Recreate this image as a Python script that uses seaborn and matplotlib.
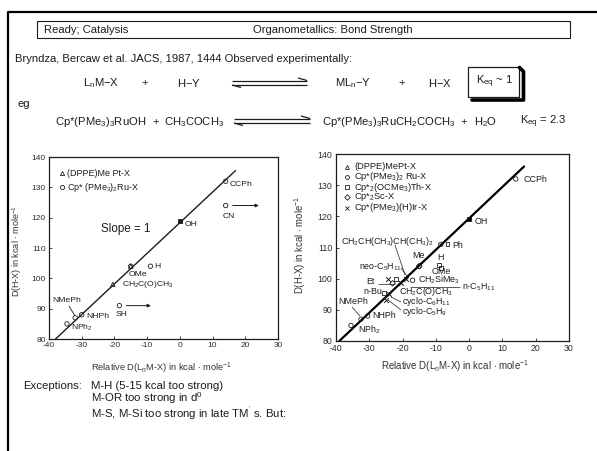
import matplotlib
matplotlib.use("Agg")
import matplotlib.pyplot as plt
import seaborn as sns
from matplotlib.patches import Rectangle

# ---------- data ----------
XT = [-40, -30, -20, -10, 0, 10, 20, 30]
YT = [80, 90, 100, 110, 120, 130, 140]

line_left_x = [-38, 17]
line_left_y = [80, 135.5]
line_right_x = [-39, 16.5]
line_right_y = [80, 136]

left_circle_x = [14, 14, -9, -15, -30, -32, -34.5, -18.5]
left_circle_y = [132, 124, 104, 104, 88, 87, 85, 91]
left_tri_x = [-20.5, -15]
left_tri_y = [98, 104]
left_filled_x = [0]
left_filled_y = [119]

right_circle_x = [14, -15, -30.5, -32.5, -35.5, -8.5, -17]
right_circle_y = [132, 104, 88, 87, 85, 111, 99.5]
right_filled_x = [0]
right_filled_y = [119]
right_square_x = [-6.5, -9, -8.5, -22, -25.5]
right_square_y = [111, 104.5, 103.5, 100, 95.5]
right_diamond_x = [-23, -15]
right_diamond_y = [98.5, 104]
right_cross_x = [-24.5, -19, -20.5, -24, -25]
right_cross_y = [100, 100, 98.5, 95, 93]

ylab = r"D(H-X) in kcal $\bullet$ mole$^{-1}$"
xlab = r"Relative D(L$_n$M-X) in kcal $\bullet$ mole$^{-1}$"

# ---------- setup ----------
sns.set_theme(style="ticks")
plt.rcParams["font.family"] = ["Liberation Sans", "DejaVu Sans"]
plt.rcParams["mathtext.default"] = "regular"
plt.rcParams["axes.unicode_minus"] = False
INK = "#1c1c1c"
W, H = 597, 451
fig = plt.figure(figsize=(W / 100, H / 100), dpi=100, facecolor="white")

ov = fig.add_axes([0, 0, 1, 1], zorder=5)
ov.set_xlim(0, W); ov.set_ylim(H, 0); ov.axis("off"); ov.patch.set_alpha(0)
MAIN = 8.15


def T(x, y, s, size=MAIN, **kw):
    kw.setdefault("va", "center")
    kw.setdefault("ha", "left")
    kw.setdefault("color", INK)
    ov.text(x, y, s, fontsize=size, **kw)


def L(x0, y0, x1, y1, lw=0.6, color=INK):
    ov.plot([x0, x1], [y0, y1], color=color, lw=lw, solid_capstyle="butt")


def make_axes(l, r, t, b, tick_size, xsize, ysize):
    ax = fig.add_axes([l / W, 1 - b / H, (r - l) / W, (b - t) / H], zorder=2)
    ax.set_xlim(-40, 30); ax.set_ylim(80, 140)
    ax.set_xticks(XT); ax.set_yticks(YT)
    ax.tick_params(direction="in", length=2.5, width=0.6, labelsize=tick_size,
                   pad=2.5, colors="#2a2a2a")
    for s in ax.spines.values():
        s.set_linewidth(0.9); s.set_color(INK); s.set_visible(True)
    ax.set_xlabel(xlab, fontsize=xsize, color="#333333")
    ax.set_ylabel(ylab, fontsize=ysize, color="#333333")
    return ax


def pts(ax, x, y, marker, s=9, fc="none", ec=INK, lw=0.6):
    sns.scatterplot(x=x, y=y, ax=ax, marker=marker, s=s, facecolor=fc,
                    edgecolor=ec, linewidth=lw, zorder=4, legend=False)


# ---------- page furniture ----------
ov.plot([597, 8, 8], [12, 12, 451], color="black", lw=1.6)
ov.add_patch(Rectangle((37, 21), 533, 17, fc="none", ec=INK, lw=0.8))
T(44, 30, "Ready; Catalysis")
T(253, 30, "Organometallics: Bond Strength")
T(15, 59, "Bryndza, Bercaw et al. JACS, 1987, 1444 Observed experimentally:")

T(83, 83, "L$_n$M$-$X"); T(141, 83, "+"); T(177, 83, "H$-$Y")
T(335, 83, "ML$_n$$-$Y"); T(398, 83, "+"); T(428, 83, "H$-$X")
T(18, 104, "eg")
T(55, 122, "Cp*(PMe$_3$)$_3$RuOH"); T(152, 122, "+"); T(164, 122, "CH$_3$COCH$_3$")
T(322, 122, "Cp*(PMe$_3$)$_3$RuCH$_2$COCH$_3$"); T(460, 122, "+"); T(474, 122, "H$_2$O")
T(520, 122, "K$_{eq}$ = 2.3")

for x0, x1, y in [(232, 307, 80.5), (234, 310, 118.5)]:
    L(x0, y, x1, y, 0.9)
    L(x1 - 9, y - 2.5, x1, y, 0.9)
    L(x0, y + 4.5, x1, y + 4.5, 0.9)
    L(x0 + 9, y + 7, x0, y + 4.5, 0.9)

ov.add_patch(Rectangle((468, 67), 51, 30, fc="white", ec=INK, lw=0.9))
ov.plot([519.5, 523.5, 523.5, 472], [67.5, 71.5, 100, 100], color="black", lw=2.6)
T(476, 82, "K$_{eq}$ ~ 1")

T(23, 386, "Exceptions:", 8.2)
T(91, 386, "M-H (5-15 kcal too strong)", 8.2)
T(91, 398, "M-OR too strong in d$^0$", 8.2)
T(91, 413, "M-S, M-Si too strong in late TM$^{'}$ s. But:", 8.2)

# ---------- left chart ----------
ax1 = make_axes(49, 278, 157, 339, 6.0, 6.7, 6.5)
ax1.xaxis.set_label_coords(161, 361, transform=ov.transData)
ax1.yaxis.set_label_coords(24, 251, transform=ov.transData)
sns.lineplot(x=line_left_x, y=line_left_y, ax=ax1, color=INK, lw=1.0)
pts(ax1, left_circle_x, left_circle_y, "o", 10)
pts(ax1, left_tri_x, left_tri_y, "^", 10)
pts(ax1, left_filled_x, left_filled_y, "s", 12, fc=INK)
ax1.annotate("", xy=(25, 124), xytext=(15.3, 124),
             arrowprops=dict(arrowstyle="-|>", lw=0.7, color=INK, mutation_scale=5))
ax1.annotate("", xy=(-8, 91), xytext=(-17.2, 91),
             arrowprops=dict(arrowstyle="-|>", lw=0.7, color=INK, mutation_scale=5))

ov.plot([61.7], [173], "^", ms=3, mfc="none", mec=INK, mew=0.6)
ov.plot([61.7], [187], "o", ms=3, mfc="none", mec=INK, mew=0.6)
T(67, 173.5, "(DPPE)Me Pt-X", 6.5)
T(67, 187.5, "Cp* (PMe$_3$)$_2$Ru-X", 6.5)
T(101, 229, "Slope = 1", 8.4)
for x, y, s in [(230, 185, "CCPh"), (223, 216, "CN"), (185, 224, "OH"), (154, 266, "H"),
                (129, 274, "OMe"), (121.7, 284, "CH$_2$C(O)CH$_3$"), (116, 314, "SH"),
                (52, 301, "NMePh"), (86, 316, "NHPh"), (71, 328, "NPh$_2$")]:
    T(x, y, s, 6.1)
L(69, 306, 75, 316)

# ---------- right chart ----------
ax2 = make_axes(336, 569, 154, 341, 6.3, 7.0, 6.9)
ax2.xaxis.set_label_coords(455, 358, transform=ov.transData)
ax2.yaxis.set_label_coords(308, 245, transform=ov.transData)
sns.lineplot(x=line_right_x, y=line_right_y, ax=ax2, color="black", lw=1.6)
pts(ax2, right_circle_x, right_circle_y, "o", 10)
pts(ax2, right_square_x, right_square_y, "s", 8)
pts(ax2, right_diamond_x, right_diamond_y, "D", 8)
pts(ax2, right_cross_x, right_cross_y, "x", 12, fc=INK, lw=0.7)
pts(ax2, right_filled_x, right_filled_y, "s", 12, fc="black")

for y, m, s in [(166.7, "^", "(DPPE)MePt-X"),
                (176.7, "o", "Cp*(PMe$_3$)$_2$ Ru-X"),
                (187.3, "s", "Cp*$_2$(OCMe$_3$)Th-X"),
                (197.3, "D", "Cp*$_2$Sc-X"),
                (207.7, "x", "Cp*(PMe$_3$)(H)Ir-X")]:
    ov.plot([346.7], [y], m, ms=2.8, mfc="none", mec=INK, mew=0.6)
    T(354, y, s, 6.7)

for x, y, s in [(523, 180, "CCPh"), (475, 221, "OH"), (452, 245, "Ph"),
                (341, 241.7, "CH$_2$CH(CH$_3$)CH(CH$_3$)$_2$"), (412, 255, "Me"), (437, 257, "H"),
                (432, 272, "OMe"), (359, 267, "neo-C$_5$H$_{11}$"), (366, 282, "Et"),
                (418, 280, "CH$_2$SiMe$_3$"), (462, 287, "n-C$_5$H$_{11}$"), (363, 292, "n-Bu"),
                (399, 292, "CH$_2$C(O)CH$_3$"), (402, 302, "cyclo-C$_6$H$_{11}$"),
                (402, 311, "cyclo-C$_5$H$_9$"), (338, 302, "NMePh"), (372, 316, "NHPh"),
                (358, 330, "NPh$_2$")]:
    T(x, y, s, 6.4)
for seg in [(395, 245, 405, 275), (401, 268, 407, 276), (378, 283.5, 395, 283.5),
            (410, 286.5, 460, 286.5), (401, 302, 391, 297), (401, 310, 388, 300),
            (352, 307, 360, 316)]:
    L(*seg, 0.5)

fig.savefig("out.png", dpi=100)
